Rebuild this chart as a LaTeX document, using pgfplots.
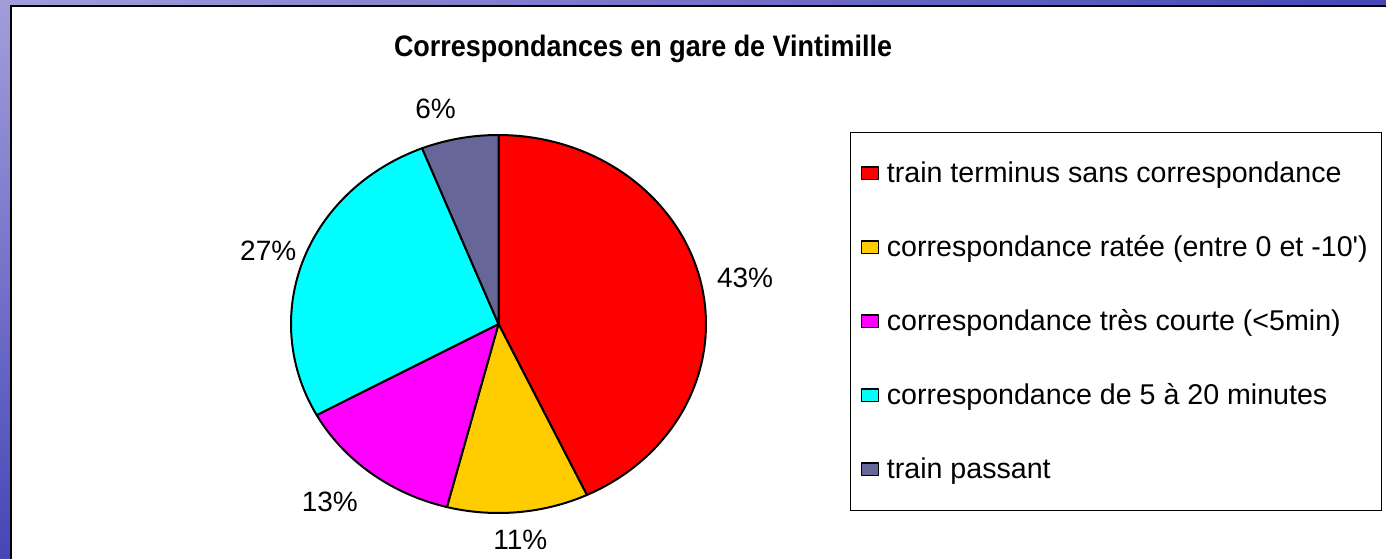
\documentclass[border=0pt]{standalone}
\usepackage{fontspec}
\setmainfont{Liberation Sans}
\usepackage{pgfplots}
\pgfplotsset{compat=1.18}
\definecolor{sliceA}{HTML}{FF0000}
\definecolor{sliceB}{HTML}{FFCC00}
\definecolor{sliceC}{HTML}{FF00FF}
\definecolor{sliceD}{HTML}{00FFFF}
\definecolor{sliceE}{HTML}{666699}
\definecolor{bgl}{HTML}{A29EDC}
\definecolor{bgd}{HTML}{4646B6}
\tikzset{lbl/.style={font=\fontsize{14}{17}\selectfont, inner sep=0pt, outer sep=8pt}}
\begin{document}
\begin{tikzpicture}
% data (percent)
\def\vA{43}\def\vB{11}\def\vC{13}\def\vD{27}\def\vE{6}
% cumulative angles (clockwise from top)
\pgfmathsetmacro\sA{90}
\pgfmathsetmacro\eA{\sA-3.6*\vA}
\pgfmathsetmacro\eB{\eA-3.6*\vB}
\pgfmathsetmacro\eC{\eB-3.6*\vC}
\pgfmathsetmacro\eD{\eC-3.6*\vD}
\pgfmathsetmacro\eE{\eD-3.6*\vE}
% mid angles, label points and anchors
\foreach \n/\a/\b in {A/\sA/\eA, B/\eA/\eB, C/\eB/\eC, D/\eC/\eD, E/\eD/\eE}{
  \pgfmathsetmacro\m{(\a+\b)/2}
  \pgfmathsetmacro\px{cos(\m)}
  \pgfmathsetmacro\py{sin(\m)}
  \pgfmathsetmacro\an{mod(atan2(189*sin(\m),207.5*cos(\m))+540,360)}
  \global\expandafter\let\csname px\n\endcsname\px
  \global\expandafter\let\csname py\n\endcsname\py
  \global\expandafter\let\csname an\n\endcsname\an
}
\clip (0,0) rectangle (693pt,279pt);
\shade[left color=bgl, right color=bgd] (0,273pt) rectangle (693pt,279pt);
\shade[top color=bgl, bottom color=bgd] (0,0) rectangle (5.6pt,279pt);
\fill[white] (5.6pt,-5pt) rectangle (700pt,276pt);
\draw[black, line width=0.9pt] (5.6pt,-5pt) -- (5.6pt,276pt) -- (700pt,276pt);
\node[font=\fontsize{14.8}{17}\selectfont\bfseries\addfontfeature{FakeStretch=0.91}, anchor=base] at (321.5pt,250.5pt) {Correspondances en gare de Vintimille};
\begin{axis}[
  at={(249.25pt,117pt)}, anchor=center,
  scale only axis, width=207.5pt, height=189pt,
  hide axis, xmin=-1, xmax=1, ymin=-1, ymax=1, clip=false,
  every axis plot/.append style={draw=black, line width=1pt, line join=round, samples=80},
  legend image code/.code={\draw[#1, line width=0.7pt] (0pt,-3pt) rectangle (8.5pt,3.2pt);},
  legend style={
    at={(axis description cs:1.347,1.008)}, anchor=north west,
    draw=black, line width=0.5pt,
    font=\fontsize{14.3}{17}\selectfont,
    inner xsep=5pt, inner ysep=12.5pt,
    row sep=21pt, column sep=2pt,
    legend cell align=left,
  },
]
\addplot[fill=sliceA, domain=\eA:\sA] ({cos(x)},{sin(x)}) -- (axis cs:0,0) -- cycle;
\addlegendentry{train terminus sans correspondance}
\addplot[fill=sliceB, domain=\eB:\eA] ({cos(x)},{sin(x)}) -- (axis cs:0,0) -- cycle;
\addlegendentry{correspondance ratée (entre 0 et -10\textquotesingle)}
\addplot[fill=sliceC, domain=\eC:\eB] ({cos(x)},{sin(x)}) -- (axis cs:0,0) -- cycle;
\addlegendentry{correspondance très courte (<5min)}
\addplot[fill=sliceD, domain=\eD:\eC] ({cos(x)},{sin(x)}) -- (axis cs:0,0) -- cycle;
\addlegendentry{correspondance de 5 à 20 minutes}
\addplot[fill=sliceE, domain=\eE:\eD] ({cos(x)},{sin(x)}) -- (axis cs:0,0) -- cycle;
\addlegendentry{train passant}
\node[lbl, anchor=\anA, yshift=-2pt] at (axis cs:\pxA,\pyA) {\vA\%};
\node[lbl, anchor=\anB, yshift=-1pt] at (axis cs:\pxB,\pyB) {\vB\%};
\node[lbl, anchor=\anC, xshift=-9.5pt, yshift=-1.5pt] at (axis cs:\pxC,\pyC) {\vC\%};
\node[lbl, anchor=\anD, xshift=4.5pt, yshift=-3pt] at (axis cs:\pxD,\pyD) {\vD\%};
\node[lbl, anchor=\anE, xshift=-9.5pt, yshift=2pt] at (axis cs:\pxE,\pyE) {\vE\%};
\end{axis}
\end{tikzpicture}
\end{document}
